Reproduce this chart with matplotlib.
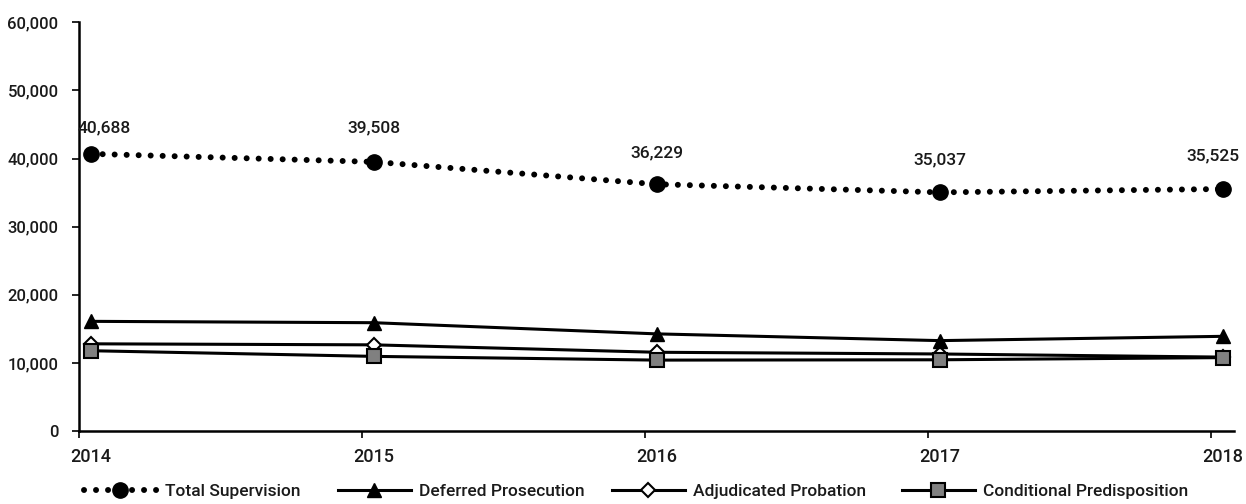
import matplotlib.pyplot as plt
from matplotlib.ticker import FuncFormatter

# yearly supervision counts
years = ["2014", "2015", "2016", "2017", "2018"]
total_supervision = [40688, 39508, 36229, 35037, 35525]
deferred_prosecution = [16100, 15900, 14260, 13270, 13900]
adjudicated_probation = [12800, 12650, 11560, 11310, 10850]
conditional_predisposition = [11788, 10958, 10409, 10457, 10775]

plt.rcParams["font.family"] = ["Roboto", "DejaVu Sans"]
plt.rcParams["font.weight"] = 500
plt.rcParams["font.size"] = 12
TEXT = "#1a1a1a"
W, H = 1246, 504

fig = plt.figure(figsize=(W / 100, H / 100), dpi=100)
ax = fig.add_axes([0.0632, 0.1448, 0.9268, 0.811])

# points (and year labels) sit a little right of each year tick
shift = 0.042
xs = [i + shift for i in range(len(years))]

styles = [
    dict(lw=4.3, linestyle=(0, (0.01, 2.0)), dash_capstyle="round",
         marker="o", markersize=11, zorder=3),
    dict(lw=2.2, marker="^", markersize=10, zorder=5),
    dict(lw=2.2, marker="D", markersize=7, markerfacecolor="white",
         markeredgecolor="black", markeredgewidth=1.5, zorder=3),
    dict(lw=2.2, marker="s", markersize=10, markerfacecolor="#808080",
         markeredgecolor="black", markeredgewidth=1.5, zorder=4),
]
names = ["Total Supervision", "Deferred Prosecution",
         "Adjudicated Probation", "Conditional Predisposition"]
series = [total_supervision, deferred_prosecution,
          adjudicated_probation, conditional_predisposition]

handles = []
for name, vals, st in zip(names, series, styles):
    line, = ax.plot(xs, vals, color="black", label=name, **st)
    handles.append(line)

# value labels above the total line
label_offsets = [(9.6, 18.7), (0, 24.5), (0, 22.5), (0, 23), (-7.2, 23.5)]
for x, v, (dx, dy) in zip(xs, total_supervision, label_offsets):
    ax.annotate(f"{v:,}", (x, v), xytext=(dx, dy), textcoords="offset points",
                ha="center", va="center", fontsize=12.5, color=TEXT)

ax.set_xlim(0, 4.08)
ax.set_ylim(0, 60000)
ax.set_xticks(range(len(years)))
ax.set_xticklabels([])
ax.set_xticks(xs, minor=True)
ax.set_xticklabels(years, minor=True)
ax.tick_params(axis="x", which="minor", length=0, pad=12, labelsize=13, labelcolor=TEXT)
ax.set_yticks(range(0, 60001, 10000))
ax.yaxis.set_major_formatter(FuncFormatter(lambda v, p: f"{int(v):,}"))

for side in ("top", "right"):
    ax.spines[side].set_visible(False)
for side in ("left", "bottom"):
    ax.spines[side].set_linewidth(1.8)
    ax.spines[side].set_color("black")
ax.tick_params(axis="both", which="major", length=5, width=1.2, color="black",
               labelsize=12, labelcolor=TEXT, pad=5)
ax.tick_params(axis="y", pad=9.5)

# one legend entry per slot along the bottom
legend_x = [84, 338, 612, 902]
for h, lx in zip(handles, legend_x):
    leg = fig.legend(handles=[h], loc="center left", bbox_to_anchor=(lx / W, 0.024),
                     frameon=False, borderpad=0, borderaxespad=0, handlelength=4.2,
                     handletextpad=0.45, fontsize=12.5)
    for t in leg.get_texts():
        t.set_color(TEXT)

fig.savefig("out.png", dpi=100)
